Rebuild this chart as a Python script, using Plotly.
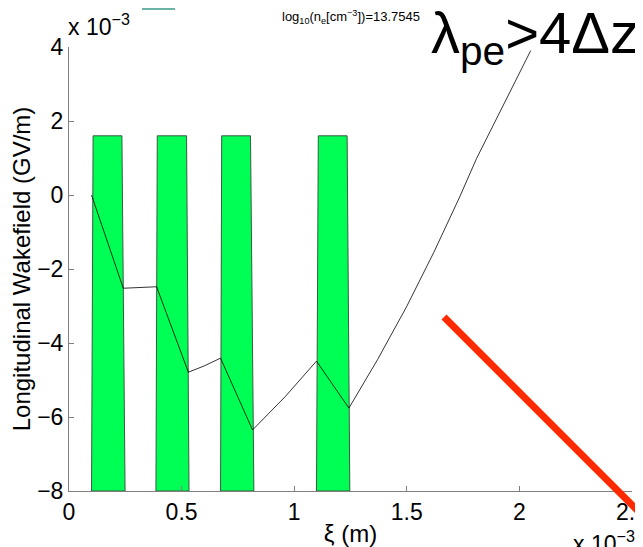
import plotly.graph_objects as go

# ---- data (units: 1e-3 m for xi, 1e-3 GV/m for field) ----
xi = [0.10, 0.241, 0.389, 0.53, 0.60, 0.673, 0.815, 0.96, 1.099, 1.243, 1.37, 1.499, 1.62, 1.735, 1.81, 1.93, 2.05]
ez = [0.0, -2.52, -2.48, -4.79, -4.62, -4.41, -6.35, -5.45, -4.49, -5.76, -4.45, -3.02, -1.55, -0.05, 0.99, 2.45, 3.90]

bar_left_bottom = [0.100, 0.386, 0.673, 1.099]
bar_left_top = [0.107, 0.392, 0.678, 1.107]
bar_right_top = [0.235, 0.522, 0.806, 1.235]
bar_right_bottom = [0.249, 0.533, 0.821, 1.247]
bar_top = 1.6
bar_base = -8.0

x_ticks = [0, 0.5, 1, 1.5, 2, 2.5]
x_tick_text = ["0", "0.5", "1", "1.5", "2", "2.5"]
y_ticks = [-8, -6, -4, -2, 0, 2, 4]
y_tick_text = ["\u22128", "\u22126", "\u22124", "\u22122", "0", "2", "4"]

title_text = "log<sub>10</sub>(n<sub>e</sub>[cm<sup>\u22123</sup>])=13.7545"
big_label = "\u03bb<sub>pe</sub>>4\u0394z"

FONT = "Liberation Sans, Arial, Helvetica, sans-serif"
OFF = 8  # page body margin
W, H = 643 - OFF, 547 - OFF
# plot area in page pixels
PL, PR, PT, PB = 69, 632, 47, 491
L, R, T, B = PL - OFF, PR - OFF, PT - OFF, PB - OFF


def px(x):
    """page pixel x -> paper"""
    return (x - PL) / (PR - PL)


def py(y):
    """page pixel y -> paper"""
    return (PB - y) / (PB - PT)


fig = go.Figure()

for i in range(len(bar_left_bottom)):
    fig.add_trace(go.Scatter(
        x=[bar_left_bottom[i], bar_left_top[i], bar_right_top[i], bar_right_bottom[i], bar_left_bottom[i]],
        y=[bar_base, bar_top, bar_top, bar_base, bar_base],
        fill="toself", fillcolor="#00FF55", mode="lines",
        line=dict(color="#3a5a40", width=1), hoverinfo="skip", showlegend=False))

fig.add_trace(go.Scatter(x=xi, y=ez, mode="lines", line=dict(color="black", width=0.8),
                         showlegend=False))

fig.update_layout(
    width=W, height=H,
    margin=dict(l=L, r=W - R, t=T, b=H - B, autoexpand=False),
    paper_bgcolor="white", plot_bgcolor="white",
    font=dict(family=FONT, size=23, color="black"),
    showlegend=False,
    xaxis=dict(range=[0, 2.5], tickvals=x_ticks, ticktext=x_tick_text, ticks="inside", ticklen=5,
               tickcolor="#808080", showline=True, linecolor="#808080", linewidth=1, mirror=False,
               showgrid=False, zeroline=False, automargin=False, tickfont=dict(size=23),
               ticklabeloverflow="allow",
               title=dict(text="\u03be (m)", font=dict(size=24), standoff=1)),
    yaxis=dict(range=[-8, 4], tickvals=y_ticks, ticktext=y_tick_text, ticks="inside", ticklen=5,
               tickcolor="#808080", showline=True, linecolor="#808080", linewidth=1, mirror=False,
               showgrid=False, zeroline=False, automargin=False, tickfont=dict(size=23),
               ticklabeloverflow="allow",
               title=dict(text="Longitudinal Wakefield (GV/m)", font=dict(size=24), standoff=4)),
)

annotations = [
    dict(text=title_text, x=0.5, y=py(17), xref="paper", yref="paper", showarrow=False,
         font=dict(size=13), xanchor="center", yanchor="middle"),
    dict(text="x 10<sup>\u22123</sup>", x=px(66), y=py(42), xref="paper", yref="paper", showarrow=False,
         font=dict(size=23), xanchor="left", yanchor="bottom"),
    dict(text="x 10<sup>\u22123</sup>", x=px(571), y=py(525), xref="paper", yref="paper", showarrow=False,
         font=dict(size=23), xanchor="left", yanchor="top"),
    dict(text=big_label, x=px(641), y=py(76), xref="paper", yref="paper", showarrow=False,
         font=dict(size=58), xanchor="right", yanchor="bottom"),
]
fig.update_layout(annotations=annotations)

fig.add_shape(type="line", xref="paper", yref="paper", x0=px(444), y0=py(317), x1=px(660), y1=py(533),
              line=dict(color="#FF2A00", width=7))
fig.add_shape(type="line", xref="paper", yref="paper", x0=px(142), y0=py(9), x1=px(175), y1=py(9),
              line=dict(color="#3a9a8a", width=1.5))

fig.write_html("out.html")
